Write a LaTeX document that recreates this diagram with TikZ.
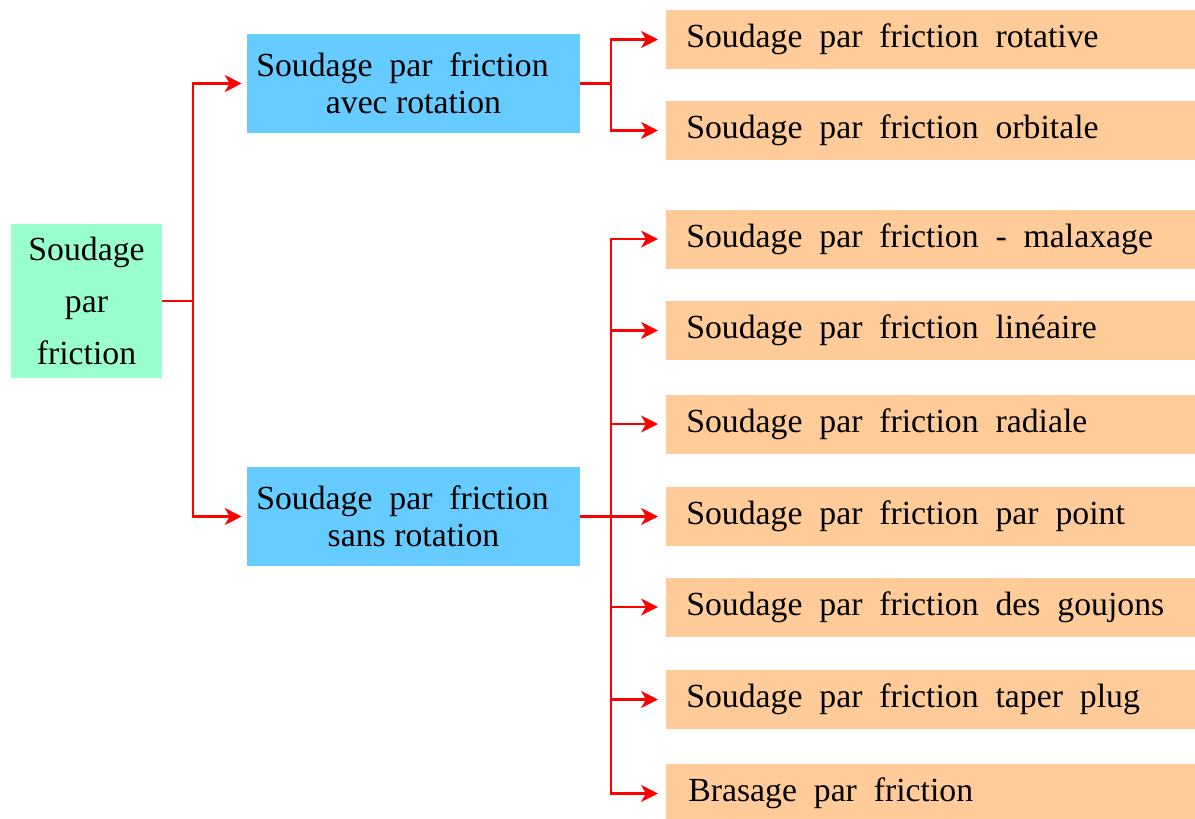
\documentclass[tikz,border=0pt]{standalone}
\usepackage{fontspec}
\setmainfont{Liberation Serif}
\usepackage{xcolor}
\usetikzlibrary{arrows.meta, positioning}

\definecolor{rootgreen}{HTML}{99FFCC}
\definecolor{midblue}{HTML}{66CCFF}
\definecolor{leaforange}{HTML}{FFCC99}

\begin{document}
\begin{tikzpicture}[
    x=0.025cm, y=-0.025cm,
    font=\fontsize{24pt}{26.5pt}\selectfont,
    % Node styles
    rootbox/.style={rectangle, fill=rootgreen, minimum width=3.775cm, minimum height=3.85cm, align=center, inner sep=0pt, font=\fontsize{24pt}{37pt}\selectfont},
    midbox/.style={rectangle, fill=midblue, minimum width=8.325cm, minimum height=2.475cm, align=center, inner sep=0pt},
    leafbox/.style={rectangle, fill=leaforange, anchor=west, minimum height=1.475cm, text width=12.225cm, inner xsep=0.5cm, inner ysep=0pt, align=flush left},
    link/.style={red, line width=2pt},
    arrow/.style={link, -{Stealth[length=12pt, width=12pt, inset=3.5pt]}},
]

\useasboundingbox (0, 0) rectangle (1195, 818);

% ============================================================================
% LEFT: ROOT
% ============================================================================
\node[rootbox] (root) at (86.5, 301) {Soudage\\par\\friction};

% ============================================================================
% MIDDLE: TWO FAMILIES
% ============================================================================
\node[midbox] (avec) at (413.5, 83.5) {Soudage~~par~~friction\hspace*{0.55cm}\\avec rotation};
\node[midbox] (sans) at (413.5, 516.5) {Soudage~~par~~friction\hspace*{0.55cm}\\sans rotation};

% ============================================================================
% RIGHT: PROCESSES
% ============================================================================
\node[leafbox] (rotative) at (666, 39.5) {Soudage~~par~~friction~~rotative};
\node[leafbox] (orbitale) at (666, 130.5) {Soudage~~par~~friction~~orbitale};

\node[leafbox] (malaxage) at (666, 239) {Soudage~~par~~friction~~-~~malaxage};
\node[leafbox] (lineaire) at (666, 330.5) {Soudage~~par~~friction~~linéaire};
\node[leafbox] (radiale) at (666, 424) {Soudage~~par~~friction~~radiale};
\node[leafbox] (point) at (666, 516.5) {Soudage~~par~~friction~~par~~point};
\node[leafbox] (goujons) at (666, 607) {Soudage~~par~~friction~~des~~goujons};
\node[leafbox] (taper) at (666, 699.5) {Soudage~~par~~friction~~taper~~plug};
\node[leafbox] (brasage) at (666, 793.5) {\hspace{0.05cm}Brasage~~par~~friction};

% ============================================================================
% CONNECTORS
% ============================================================================
\coordinate (rj) at (193, 301);
\coordinate (aj) at (611, 83.5);
\coordinate (sj) at (611, 516.5);

\draw[link] (root.east) -- (rj);
\draw[arrow, shorten >=0.125cm] (rj) |- (avec.west);
\draw[arrow, shorten >=0.125cm] (rj) |- (sans.west);

\draw[link] (avec.east) -- (aj);
\foreach \leaf in {rotative, orbitale}
    \draw[arrow, shorten >=0.2cm] (aj) |- (\leaf.west);

\draw[link] (sans.east) -- (sj);
\foreach \leaf in {malaxage, lineaire, radiale, point, goujons, taper, brasage}
    \draw[arrow, shorten >=0.2cm] (sj) |- (\leaf.west);

\end{tikzpicture}
\end{document}
